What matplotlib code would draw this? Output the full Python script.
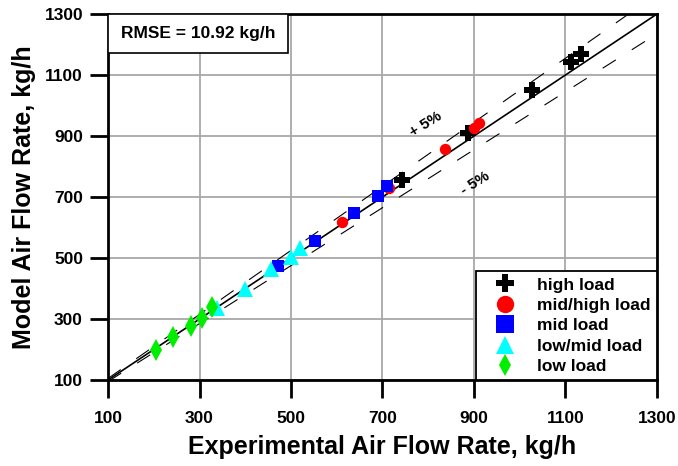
import matplotlib
matplotlib.use("Agg")
import matplotlib.pyplot as plt
from matplotlib.patches import Rectangle
import numpy as np

plt.rcParams['font.family'] = ['Liberation Sans', 'DejaVu Sans']
plt.rcParams['font.weight'] = 'bold'

high_x = [743, 886, 1027, 1113, 1135]
high_y = [756, 909, 1051, 1142, 1168]
midhigh_x = [611, 714, 837, 901, 910]
midhigh_y = [617, 729, 857, 925, 943]
mid_x = [471, 552, 638, 690, 710]
mid_y = [474, 557, 648, 703, 737]
lowmid_x = [339, 400, 456, 500, 520]
lowmid_y = [335, 397, 464, 504, 534]
low_x = [205, 241, 281, 306, 327]
low_y = [200, 240, 277, 302, 338]
ticks = [100, 300, 500, 700, 900, 1100, 1300]

fig = plt.figure(figsize=(6.78, 4.66), dpi=100)
ax = fig.add_axes([0.1593, 0.1845, 0.8097, 0.7855])
ax.set_xlim(100, 1300)
ax.set_ylim(100, 1300)
ax.set_xticks(ticks)
ax.set_yticks(ticks)
ax.grid(True, color='#a8a8a8', linewidth=1.3, zorder=0)
ax.set_axisbelow(True)

xx = np.array([100, 1300])
ax.plot(xx, xx, color='black', lw=1.2, zorder=2)
ax.plot(xx, 1.05 * xx, color='black', lw=0.8, dashes=(14, 17), zorder=2)
ax.plot(xx, 0.95 * xx, color='black', lw=0.8, dashes=(14, 17), zorder=2)

ax.plot(high_x, high_y, 'P', color='black', ms=11, mew=0, ls='none', label='high load', zorder=3)
ax.plot(midhigh_x, midhigh_y, 'o', color='red', ms=8.2, mew=0, ls='none', label='mid/high load', zorder=3)
ax.plot(mid_x, mid_y, 's', color='blue', ms=8, mew=0, ls='none', label='mid load', zorder=3)
ax.plot(lowmid_x, lowmid_y, '^', color='cyan', ms=11, mew=0, ls='none', label='low/mid load', zorder=3)
ax.plot(low_x, low_y, 'd', color='#00ee00', ms=11, mew=0, ls='none', label='low load', zorder=3)

ax.text(795, 938, '+ 5%', rotation=32, fontsize=11, fontweight='bold', ha='center', va='center')
ax.text(903, 746, '- 5%', rotation=32, fontsize=11, fontweight='bold', ha='center', va='center')

ax.add_patch(Rectangle((0, 0.8934), 0.328, 0.1066, transform=ax.transAxes,
                       fc='white', ec='black', lw=1.2, zorder=4))
ax.text(0.164, 0.9467, 'RMSE = 10.92 kg/h', transform=ax.transAxes, fontsize=12.5,
        fontweight='bold', ha='center', va='center', zorder=5)

leg = ax.legend(loc='lower right', borderaxespad=0, fancybox=False, frameon=True,
                edgecolor='black', framealpha=1, fontsize=12.5, handletextpad=0.55,
                labelspacing=0.3, borderpad=0.35, handlelength=2.65)
leg.get_frame().set_linewidth(1.3)
for h, ms in zip(leg.legend_handles, [13, 12.5, 12.5, 13.5, 11]):
    h.set_markersize(ms)
for t in leg.get_texts():
    t.set_fontweight('bold')

for s in ax.spines.values():
    s.set_linewidth(2)
ax.tick_params(axis='x', direction='out', length=13, width=2, labelsize=12.5, pad=9)
ax.tick_params(axis='y', direction='out', length=13, width=2, labelsize=12.5, pad=5)
for lbl in ax.get_xticklabels() + ax.get_yticklabels():
    lbl.set_fontweight('bold')

ax.set_xlabel('Experimental Air Flow Rate, kg/h', fontsize=18, fontweight='bold', labelpad=7)
ax.set_ylabel('Model Air Flow Rate, kg/h', fontsize=18, fontweight='bold', labelpad=6)

fig.savefig('out.png', dpi=100)
